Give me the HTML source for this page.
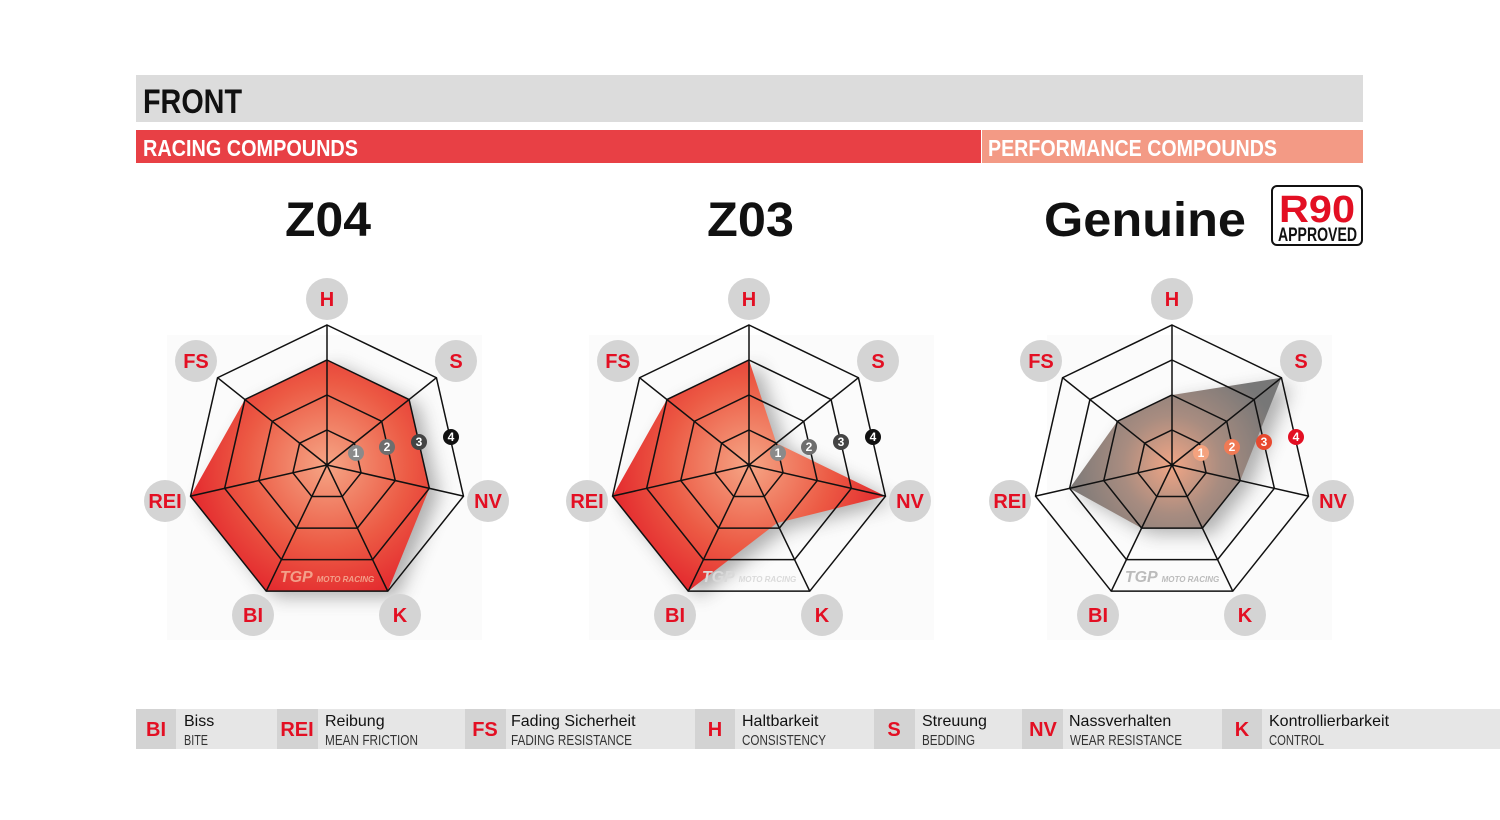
<!DOCTYPE html>
<html><head><meta charset="utf-8"><style>
html,body{margin:0;padding:0;background:#fff;}
svg{display:block;}
.cond{font-family:"Liberation Sans",sans-serif;}
.sans{font-family:"Liberation Sans",sans-serif;}
</style></head><body>
<svg width="1500" height="820" viewBox="0 0 1500 820" xmlns="http://www.w3.org/2000/svg">
<defs>
<radialGradient id="gr" cx="0" cy="0" r="150" gradientUnits="userSpaceOnUse">
<stop offset="0" stop-color="#f5a585"/><stop offset="0.55" stop-color="#ec5a44"/><stop offset="1" stop-color="#e2202a"/>
</radialGradient>
<radialGradient id="gg" cx="0" cy="0" r="110" gradientUnits="userSpaceOnUse">
<stop offset="0" stop-color="#f0a585"/><stop offset="0.45" stop-color="#a88c80"/><stop offset="1" stop-color="#777"/>
</radialGradient>
<filter id="bl" x="-30%" y="-30%" width="160%" height="160%"><feGaussianBlur stdDeviation="9"/></filter>
<g id="grid" fill="none" stroke="#111" stroke-width="1.5">
<polygon points="0,-35 27.36,-21.82 34.12,7.79 15.19,31.54 -15.19,31.54 -34.12,7.79 -27.36,-21.82"/>
<polygon points="0,-70 54.72,-43.64 68.24,15.58 30.38,63.08 -30.38,63.08 -68.24,15.58 -54.72,-43.64"/>
<polygon points="0,-105 82.08,-65.46 102.36,23.37 45.57,94.62 -45.57,94.62 -102.36,23.37 -82.08,-65.46"/>
<polygon points="0,-140 109.44,-87.28 136.48,31.16 60.76,126.16 -60.76,126.16 -136.48,31.16 -109.44,-87.28"/>
<path d="M0,0L0,-140M0,0L109.44,-87.28M0,0L136.48,31.16M0,0L60.76,126.16M0,0L-60.76,126.16M0,0L-136.48,31.16M0,0L-109.44,-87.28"/>
</g>
<g id="lbl" class="sans" font-weight="bold" font-size="20" fill="#e30f23" text-anchor="middle">
<circle cx="0" cy="-166" r="21" fill="#d4d4d4"/><text x="0" y="-159">H</text>
<circle cx="129" cy="-104" r="21" fill="#d4d4d4"/><text x="129" y="-97">S</text>
<circle cx="161" cy="36" r="21" fill="#d4d4d4"/><text x="161" y="43">NV</text>
<circle cx="73" cy="150" r="21" fill="#d4d4d4"/><text x="73" y="157">K</text>
<circle cx="-74" cy="150" r="21" fill="#d4d4d4"/><text x="-74" y="157">BI</text>
<circle cx="-162" cy="36" r="21" fill="#d4d4d4"/><text x="-162" y="43">REI</text>
<circle cx="-131" cy="-104" r="21" fill="#d4d4d4"/><text x="-131" y="-97">FS</text>
</g>
</defs>

<!-- header -->
<rect x="136" y="75" width="1227" height="47" fill="#dcdcdc"/>
<text x="143" y="113" class="cond" font-weight="bold" font-size="34" fill="#111" textLength="99" lengthAdjust="spacingAndGlyphs">FRONT</text>
<rect x="136" y="130" width="845" height="33" fill="#e84045"/>
<rect x="982" y="130" width="381" height="33" fill="#f39a85"/>
<text x="143" y="156" class="cond" font-weight="bold" font-size="23" fill="#fff" textLength="215" lengthAdjust="spacingAndGlyphs">RACING COMPOUNDS</text>
<text x="988" y="156" class="cond" font-weight="bold" font-size="23" fill="#fff" textLength="289" lengthAdjust="spacingAndGlyphs">PERFORMANCE COMPOUNDS</text>

<text x="285" y="236" class="sans" font-weight="bold" font-size="48" fill="#111" textLength="86" lengthAdjust="spacingAndGlyphs">Z04</text>
<text x="707" y="236" class="sans" font-weight="bold" font-size="48" fill="#111" textLength="87" lengthAdjust="spacingAndGlyphs">Z03</text>
<text x="1044" y="236" class="sans" font-weight="bold" font-size="48" fill="#111" textLength="202" lengthAdjust="spacingAndGlyphs">Genuine</text>
<rect x="1272" y="186" width="90" height="59" rx="5" fill="#fff" stroke="#111" stroke-width="2"/>
<text x="1279" y="222" class="sans" font-weight="bold" font-size="38" fill="#e30f23" textLength="76" lengthAdjust="spacingAndGlyphs">R90</text>
<text x="1278" y="241" class="cond" font-weight="bold" font-size="19" fill="#111" textLength="79" lengthAdjust="spacingAndGlyphs">APPROVED</text>

<!-- chart 1 -->
<g transform="translate(327,465)">
<rect x="-160" y="-130" width="315" height="305" fill="#f8f8f8" opacity="0.5"/>
<polygon points="0,-105 82.08,-65.46 102.36,23.37 60.76,126.16 -60.76,126.16 -136.48,31.16 -82.08,-65.46" fill="#555" opacity="0.45" filter="url(#bl)" transform="translate(10,6)"/>
<polygon points="0,-105 82.08,-65.46 102.36,23.37 60.76,126.16 -60.76,126.16 -136.48,31.16 -82.08,-65.46" fill="url(#gr)"/>
<use href="#grid"/>
<text x="0" y="117" class="sans" font-style="italic" font-weight="bold" font-size="16" fill="#f3a08a" text-anchor="middle">TGP <tspan font-size="8">MOTO RACING</tspan></text>
<g class="sans" font-weight="bold" font-size="12" fill="#fff" text-anchor="middle">
<circle cx="29" cy="-12" r="8" fill="#8a8a8a"/><text x="29" y="-8">1</text>
<circle cx="60" cy="-18" r="8" fill="#6e6e6e"/><text x="60" y="-14">2</text>
<circle cx="92" cy="-23" r="8" fill="#444"/><text x="92" y="-19">3</text>
<circle cx="124" cy="-28" r="8" fill="#111"/><text x="124" y="-24">4</text>
</g>
<use href="#lbl"/>
</g>

<!-- chart 2 -->
<g transform="translate(749,465)">
<rect x="-160" y="-130" width="345" height="305" fill="#f8f8f8" opacity="0.5"/>
<polygon points="0,-105 27.36,-21.82 136.48,31.16 28,58 -60.76,126.16 -136.48,31.16 -82.08,-65.46" fill="#555" opacity="0.45" filter="url(#bl)" transform="translate(10,6)"/>
<polygon points="0,-105 27.36,-21.82 136.48,31.16 28,58 -60.76,126.16 -136.48,31.16 -82.08,-65.46" fill="url(#gr)"/>
<use href="#grid"/>
<text x="0" y="117" class="sans" font-style="italic" font-weight="bold" font-size="16" fill="#dadada" text-anchor="middle">TGP <tspan font-size="8">MOTO RACING</tspan></text>
<g class="sans" font-weight="bold" font-size="12" fill="#fff" text-anchor="middle">
<circle cx="29" cy="-12" r="8" fill="#8a8a8a"/><text x="29" y="-8">1</text>
<circle cx="60" cy="-18" r="8" fill="#6e6e6e"/><text x="60" y="-14">2</text>
<circle cx="92" cy="-23" r="8" fill="#444"/><text x="92" y="-19">3</text>
<circle cx="124" cy="-28" r="8" fill="#111"/><text x="124" y="-24">4</text>
</g>
<use href="#lbl"/>
</g>

<!-- chart 3 -->
<g transform="translate(1172,465)">
<rect x="-125" y="-130" width="285" height="305" fill="#f8f8f8" opacity="0.5"/>
<polygon points="0,-70 109.44,-87.28 68.24,15.58 30.38,63.08 -30.38,63.08 -102.36,23.37 -54.72,-43.64" fill="#555" opacity="0.45" filter="url(#bl)" transform="translate(10,6)"/>
<polygon points="0,-70 109.44,-87.28 68.24,15.58 30.38,63.08 -30.38,63.08 -102.36,23.37 -54.72,-43.64" fill="url(#gg)"/>
<use href="#grid"/>
<text x="0" y="117" class="sans" font-style="italic" font-weight="bold" font-size="16" fill="#bbb" text-anchor="middle">TGP <tspan font-size="8">MOTO RACING</tspan></text>
<g class="sans" font-weight="bold" font-size="12" fill="#fff" text-anchor="middle">
<circle cx="29" cy="-12" r="8" fill="#f4a27e"/><text x="29" y="-8">1</text>
<circle cx="60" cy="-18" r="8" fill="#ef7a55"/><text x="60" y="-14">2</text>
<circle cx="92" cy="-23" r="8" fill="#e8492f"/><text x="92" y="-19">3</text>
<circle cx="124" cy="-28" r="8" fill="#e30f23"/><text x="124" y="-24">4</text>
</g>
<use href="#lbl"/>
</g>

<!-- legend -->
<rect x="136" y="709" width="1364" height="40" fill="#e6e6e6"/>
<g fill="#d3d3d3">
<rect x="136" y="709" width="40" height="40"/><rect x="277" y="709" width="41" height="40"/>
<rect x="465" y="709" width="41" height="40"/><rect x="695" y="709" width="40" height="40"/>
<rect x="874" y="709" width="41" height="40"/><rect x="1022" y="709" width="41" height="40"/>
<rect x="1222" y="709" width="40" height="40"/>
</g>
<g class="sans" font-weight="bold" font-size="20" fill="#e30f23" text-anchor="middle">
<text x="156" y="736">BI</text><text x="297" y="736">REI</text><text x="485" y="736">FS</text>
<text x="715" y="736">H</text><text x="894" y="736">S</text><text x="1043" y="736">NV</text><text x="1242" y="736">K</text>
</g>
<g class="sans" font-size="16" fill="#111">
<text x="184" y="726">Biss</text><text x="325" y="726">Reibung</text><text x="511" y="726">Fading Sicherheit</text>
<text x="742" y="726">Haltbarkeit</text><text x="922" y="726">Streuung</text><text x="1069" y="726">Nassverhalten</text><text x="1269" y="726">Kontrollierbarkeit</text>
</g>
<g class="cond" font-size="15" fill="#333" lengthAdjust="spacingAndGlyphs">
<text x="184" y="745" textLength="24" lengthAdjust="spacingAndGlyphs">BITE</text>
<text x="325" y="745" textLength="93" lengthAdjust="spacingAndGlyphs">MEAN FRICTION</text>
<text x="511" y="745" textLength="121" lengthAdjust="spacingAndGlyphs">FADING RESISTANCE</text>
<text x="742" y="745" textLength="84" lengthAdjust="spacingAndGlyphs">CONSISTENCY</text>
<text x="922" y="745" textLength="53" lengthAdjust="spacingAndGlyphs">BEDDING</text>
<text x="1070" y="745" textLength="112" lengthAdjust="spacingAndGlyphs">WEAR RESISTANCE</text>
<text x="1269" y="745" textLength="55" lengthAdjust="spacingAndGlyphs">CONTROL</text>
</g>
</svg>
</body></html>
